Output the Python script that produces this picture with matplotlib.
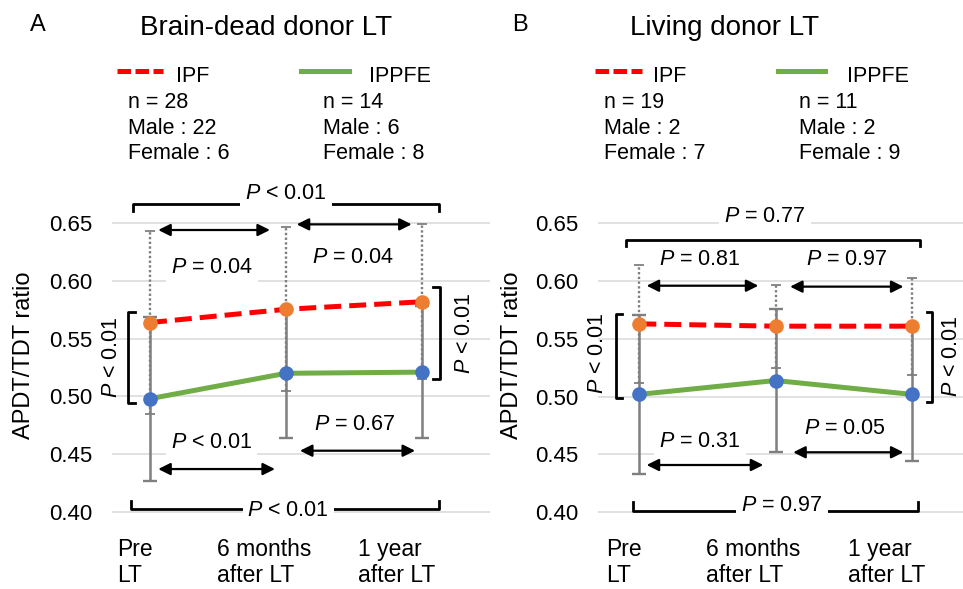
import matplotlib
matplotlib.use('Agg')
import matplotlib.pyplot as plt
from matplotlib.lines import Line2D
from matplotlib.transforms import blended_transform_factory

plt.rcParams['font.family'] = ['Liberation Sans', 'DejaVu Sans']
plt.rcParams['mathtext.fontset'] = 'custom'
plt.rcParams['mathtext.rm'] = 'Liberation Sans'
plt.rcParams['mathtext.it'] = 'Liberation Sans:italic'

# ---------------- data ----------------
timepoints = ['Pre\nLT', '6 months\nafter LT', '1 year\nafter LT']
yticks = [0.40, 0.45, 0.50, 0.55, 0.60, 0.65]
series_names = ['IPF', 'IPPFE']

# Panel A: brain-dead donor LT
bd_title = 'Brain-dead donor LT'
bd_ipf_mean = [0.564, 0.5755, 0.582]
bd_ipf_sd = [0.079, 0.071, 0.067]
bd_ippfe_mean = [0.498, 0.520, 0.521]
bd_ippfe_sd = [0.071, 0.056, 0.057]
bd_ipf_info = ['n = 28', 'Male : 22', 'Female : 6']
bd_ippfe_info = ['n = 14', 'Male : 6', 'Female : 8']
# p-values: [pre-6m, 6m-1y, pre-1y]
bd_p_ipf = ['= 0.04', '= 0.04', '< 0.01']
bd_p_ippfe = ['< 0.01', '= 0.67', '< 0.01']
# between groups: [pre, 1y]
bd_p_between = ['< 0.01', '< 0.01']

# Panel B: living donor LT
ld_title = 'Living donor LT'
ld_ipf_mean = [0.563, 0.561, 0.561]
ld_ipf_sd = [0.051, 0.036, 0.042]
ld_ippfe_mean = [0.502, 0.514, 0.502]
ld_ippfe_sd = [0.069, 0.062, 0.058]
ld_ipf_info = ['n = 19', 'Male : 2', 'Female : 7']
ld_ippfe_info = ['n = 11', 'Male : 2', 'Female : 9']
ld_p_ipf = ['= 0.81', '= 0.97', '= 0.77']
ld_p_ippfe = ['= 0.31', '= 0.05', '= 0.97']
ld_p_between = ['< 0.01', '< 0.01']

# ---------------- style ----------------
W, H = 963, 589
GRAY = '#7F7F7F'
RED = '#FF0000'
ORANGE = '#ED7D31'
GREEN = '#70AD47'
BLUE = '#4472C4'
GRID = '#D9D9D9'
FS = 15.5

fig = plt.figure(figsize=(W / 100, H / 100), dpi=100)


def fx(px):
    return px / W


def fy(py):
    return 1 - py / H


def ptxt(s):
    return r'$P$ ' + s


def draw_panel(ax, xlim, ipf_m, ipf_sd, ippfe_m, ippfe_sd, p_ipf, p_ippfe, p_btw, L):
    x = list(range(len(timepoints)))
    ax.set_xlim(*xlim)
    ax.set_ylim(0.38, 0.69)
    ax.set_yticks(yticks)
    ax.set_yticklabels([f'{v:.2f}' for v in yticks], fontsize=16)
    ax.tick_params(axis='y', length=0, pad=14)
    ax.set_xticks([])
    for s in ax.spines.values():
        s.set_visible(False)
    ax.grid(axis='y', color=GRID, lw=1.1)
    ax.set_axisbelow(True)
    ax.patch.set_alpha(0)

    eb1 = ax.errorbar(x, ipf_m, yerr=ipf_sd, fmt='none', ecolor=GRAY,
                      elinewidth=1.7, capsize=3.5, capthick=1.5, zorder=2)
    eb1[2][0].set_linestyle((0, (1, 1)))
    for c in eb1[1]:
        c.set_markeredgewidth(1.3)
    ax.errorbar(x, ippfe_m, yerr=ippfe_sd, fmt='none', ecolor=GRAY,
                elinewidth=1.8, capsize=5, capthick=1.7, zorder=2.5)
    ax.plot(x, ipf_m, color=RED, lw=3.6, ls=(0, (3.4, 1.6)),
            dash_capstyle='butt', zorder=3)
    ax.plot(x, ippfe_m, color=GREEN, lw=3.6, zorder=3)
    ax.plot(x, ipf_m, 'o', color=ORANGE, ms=9.5, zorder=4)
    ax.plot(x, ippfe_m, 'o', color=BLUE, ms=9.5, zorder=4)

    # x labels
    tr = blended_transform_factory(ax.transData, fig.transFigure)
    for xi, lab, off in zip(x, timepoints, [-0.24, -0.51, -0.47]):
        ax.text(xi + off, fy(538), lab, transform=tr, ha='left', va='top',
                fontsize=16.5, linespacing=1.17)

    bbox = dict(fc='white', ec='none', pad=3.5)
    arrow = dict(arrowstyle='<|-|>,head_length=0.6,head_width=0.3', color='black',
                 lw=1.6, shrinkA=0, shrinkB=0, mutation_scale=12)

    # top bracket (IPF pre vs 1y)
    x0, x1, y, t = L['top']
    ax.plot([x0, x0, x1, x1], [y - t, y, y, y - t], color='black', lw=2,
            clip_on=False, zorder=5)
    ax.text(*L['top_t'], ptxt(p_ipf[2]), ha='center', va='center', fontsize=FS,
            bbox=bbox, zorder=6, clip_on=False)
    # bottom bracket (IPPFE pre vs 1y)
    x0, x1, y, t = L['bot']
    ax.plot([x0, x0, x1, x1], [y + t, y, y, y + t], color='black', lw=2,
            clip_on=False, zorder=5)
    ax.text(*L['bot_t'], ptxt(p_ippfe[2]), ha='center', va='center', fontsize=FS,
            bbox=bbox, zorder=6, clip_on=False)
    # arrows
    for key, lab in [('ul', p_ipf[0]), ('ur', p_ipf[1]), ('ll', p_ippfe[0]), ('lr', p_ippfe[1])]:
        x0, x1, y = L[key]
        ax.annotate('', xy=(x1, y), xytext=(x0, y), arrowprops=arrow,
                    annotation_clip=False, zorder=5)
        ax.text(*L[key + '_t'], ptxt(lab), ha='center', va='center', fontsize=FS,
                bbox=bbox, zorder=6, clip_on=False)
    # vertical brackets (between groups)
    for key, lab in [('vl', p_btw[0]), ('vr', p_btw[1])]:
        xb, t, y0, y1 = L[key]
        ax.plot([xb + t, xb, xb, xb + t], [y0, y0, y1, y1], color='black', lw=2,
                clip_on=False, zorder=5)
        ax.text(*L[key + '_t'], ptxt(lab), ha='center', va='center', fontsize=FS,
                rotation=90, zorder=6, clip_on=False)


LA = dict(top=(-0.123, 2.127, 0.6665, 0.0056), top_t=(1.0, 0.676),
          bot=(-0.142, 2.127, 0.4021, 0.0075), bot_t=(1.017, 0.4015),
          ul=(0.061, 0.882, 0.6442), ul_t=(0.454, 0.612),
          ur=(1.079, 1.924, 0.6491), ur_t=(1.495, 0.6205),
          ll=(0.061, 0.919, 0.437), ll_t=(0.454, 0.460),
          lr=(1.103, 1.949, 0.4529), lr_t=(1.507, 0.4752),
          vl=(-0.160, 0.05, 0.4945, 0.5729), vl_t=(-0.285, 0.534),
          vr=(2.132, -0.049, 0.515, 0.5945), vr_t=(2.316, 0.5546))
LB = dict(top=(-0.10, 2.061, 0.6356, 0.005), top_t=(0.923, 0.6557),
          bot=(-0.048, 2.048, 0.4014, 0.0078), bot_t=(1.046, 0.4055),
          ul=(0.054, 0.874, 0.596), ul_t=(0.446, 0.6183),
          ur=(1.107, 1.939, 0.5952), ur_t=(1.523, 0.6183),
          ll=(0.054, 0.91, 0.4409), ll_t=(0.446, 0.4611),
          lr=(1.13, 1.939, 0.4519), lr_t=(1.51, 0.4727),
          vl=(-0.171, 0.042, 0.4986, 0.5715), vl_t=(-0.31, 0.5375),
          vr=(2.147, -0.037, 0.4957, 0.5735), vr_t=(2.29, 0.5346))

axA = fig.add_axes([fx(112), 0.0920, fx(490) - fx(112), 0.6072])
axB = fig.add_axes([fx(598), 0.0910, fx(963) - fx(598), 0.6084])

draw_panel(axA, (-0.279, 2.5), bd_ipf_mean, bd_ipf_sd, bd_ippfe_mean, bd_ippfe_sd,
           bd_p_ipf, bd_p_ippfe, bd_p_between, LA)
draw_panel(axB, (-0.303, 2.376), ld_ipf_mean, ld_ipf_sd, ld_ippfe_mean, ld_ippfe_sd,
           ld_p_ipf, ld_p_ippfe, ld_p_between, LB)

# titles, letters, y labels, legends
for letter, lx, title, tx, ylx, infos, leg in [
        ('A', 30, bd_title, 266, 24, (bd_ipf_info, bd_ippfe_info),
         dict(r=(117, 163), ipf=176, g=(301, 349), ippfe=369, c1=128, c2=322.7)),
        ('B', 512, ld_title, 725, 512, (ld_ipf_info, ld_ippfe_info),
         dict(r=(595, 642), ipf=652.7, g=(777.7, 825), ippfe=846.7, c1=604, c2=799))]:
    fig.text(fx(lx), fy(31), letter, fontsize=17, ha='left', va='baseline')
    fig.text(fx(tx), fy(35), title, fontsize=20, ha='center', va='baseline')
    fig.text(fx(ylx), fy(355), 'APDT/TDT ratio', fontsize=17, rotation=90,
             ha='center', va='center')
    fig.add_artist(Line2D([fx(leg['r'][0]), fx(leg['r'][1])], [fy(71), fy(71)],
                          transform=fig.transFigure, color=RED, lw=3.6,
                          ls=(0, (2.7, 0.9)), dash_capstyle='butt'))
    fig.add_artist(Line2D([fx(leg['g'][0]), fx(leg['g'][1])], [fy(71), fy(71)],
                          transform=fig.transFigure, color=GREEN, lw=3.6))
    fig.text(fx(leg['ipf']), fy(82), series_names[0], fontsize=FS, va='baseline')
    fig.text(fx(leg['ippfe']), fy(82), series_names[1], fontsize=FS, va='baseline')
    for col, info in zip((leg['c1'], leg['c2']), infos):
        for line, base in zip(info, (108, 133.5, 159.3)):
            fig.text(fx(col), fy(base), line, fontsize=FS, va='baseline')

fig.savefig('out.png', dpi=100)
